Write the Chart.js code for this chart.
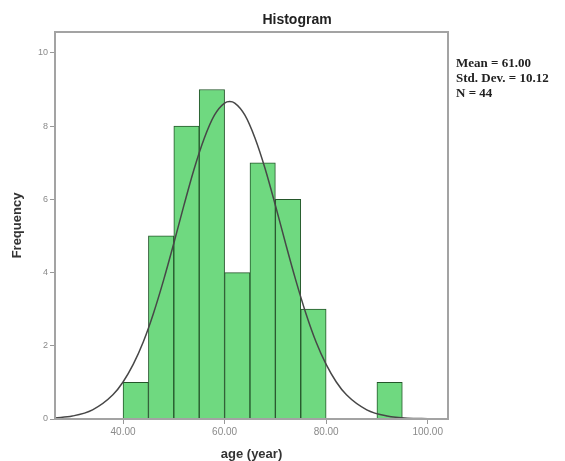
<!DOCTYPE html>
<html>
<head>
<meta charset="utf-8">
<script src="https://cdn.jsdelivr.net/npm/chart.js@4.4.0/dist/chart.umd.min.js"></script>
<style>
body { margin: 0; background: #fff; }
</style>
</head>
<body>
<canvas id="myChart" width="565" height="461"></canvas>
<script>
// histogram bins (centre of each 5-year bin) and counts
const binCentres = [42.5, 47.5, 52.5, 57.5, 62.5, 67.5, 72.5, 77.5, 82.5, 87.5, 92.5];
const frequencies = [1, 5, 8, 9, 4, 7, 6, 3, 0, 0, 1];

// normal curve
const curveX = [26.6, 30, 34, 38, 40, 42, 44, 46, 48, 50, 52, 54, 56, 58, 60, 61, 62, 64, 66, 68, 70, 72, 74, 76, 78, 80, 82, 84, 88, 92, 96, 100, 104];
const curveY = [0.03, 0.08, 0.25, 0.66, 1.01, 1.49, 2.11, 2.89, 3.80, 4.80, 5.84, 6.83, 7.67, 8.30, 8.63, 8.67, 8.63, 8.30, 7.67, 6.83, 5.84, 4.80, 3.80, 2.89, 2.11, 1.49, 1.01, 0.66, 0.25, 0.08, 0.02, 0.01, 0.0];

const xTicks = [40, 60, 80, 100];
const yTicks = [0, 2, 4, 6, 8, 10];
const statsLines = ['Mean = 61.00', 'Std. Dev. = 10.12', 'N = 44'];

const frame = {
    id: 'frame',
    afterDraw(chart) {
        const ctx = chart.ctx;
        const a = chart.chartArea;
        ctx.save();
        ctx.strokeStyle = '#a3a3a3';
        ctx.lineWidth = 2;
        ctx.strokeRect(a.left, a.top, a.right - a.left, a.bottom - a.top);
        ctx.fillStyle = '#222';
        ctx.font = 'bold 14px "Liberation Sans", Arial, sans-serif';
        ctx.textAlign = 'center';
        ctx.textBaseline = 'middle';
        ctx.fillText('Histogram', 297, 20);
        ctx.font = 'bold 13px "Liberation Serif", "Times New Roman", serif';
        ctx.textAlign = 'left';
        statsLines.forEach(function (t, i) {
            ctx.fillText(t, 456, 64 + i * 15);
        });
        ctx.restore();
    }
};

function myLoadFunction()
{
const ctx = document.getElementById('myChart').getContext('2d');
const myChart = new Chart(ctx, {
    type: 'bar',
    data: {
        datasets: [{
            type: 'line',
            data: curveX.map((x, i) => ({x: x, y: curveY[i]})),
            borderColor: '#474747',
            borderWidth: 1.5,
            pointRadius: 0,
            cubicInterpolationMode: 'monotone',
            fill: false,
            order: 0
        }, {
            data: binCentres.map((x, i) => ({x: x, y: frequencies[i]})),
            backgroundColor: '#6fd980',
            borderColor: '#24562a',
            borderWidth: 1,
            barPercentage: 1,
            categoryPercentage: 1,
            order: 1
        }]
    },
    options: {
        responsive: false,
        animation: false,
        layout: { padding: { left: 0, right: 117, top: 32, bottom: 0 } },
        plugins: {
            legend: { display: false },
            tooltip: { enabled: false }
        },
        scales: {
            x: {
                type: 'linear',
                offset: false,
                min: 26.6,
                max: 104,
                afterBuildTicks: s => { s.ticks = xTicks.map(v => ({value: v})); },
                afterFit: s => { s.height = 42; },
                grid: { offset: false, drawOnChartArea: false, color: '#999', tickLength: 5 },
                border: { color: '#999', width: 2 },
                ticks: {
                    color: '#8a8a8a',
                    font: { size: 10, family: 'Arial, "Liberation Sans", sans-serif' },
                    padding: 2,
                    maxRotation: 0,
                    callback: v => v.toFixed(2)
                },
                title: {
                    display: true,
                    text: 'age (year)',
                    color: '#333',
                    font: { size: 13, weight: 'bold', family: 'Arial, "Liberation Sans", sans-serif', lineHeight: 1 },
                    padding: { top: 0, bottom: 0 }
                }
            },
            y: {
                min: 0,
                max: 10.57,
                afterBuildTicks: s => { s.ticks = yTicks.map(v => ({value: v})); },
                afterFit: s => { s.width = 55; },
                grid: { drawOnChartArea: false, color: '#999', tickLength: 5 },
                border: { color: '#999', width: 2 },
                ticks: {
                    color: '#8a8a8a',
                    font: { size: 9, family: 'Arial, "Liberation Sans", sans-serif' },
                    padding: 2,
                    callback: v => String(v)
                },
                title: {
                    display: true,
                    text: 'Frequency',
                    color: '#333',
                    font: { size: 13, weight: 'bold', family: 'Arial, "Liberation Sans", sans-serif', lineHeight: 1 },
                    padding: { top: 11, bottom: 0 }
                }
            }
        }
    },
    plugins: [frame]
});
}
document.addEventListener('DOMContentLoaded', myLoadFunction);
</script>
</body>
</html>
